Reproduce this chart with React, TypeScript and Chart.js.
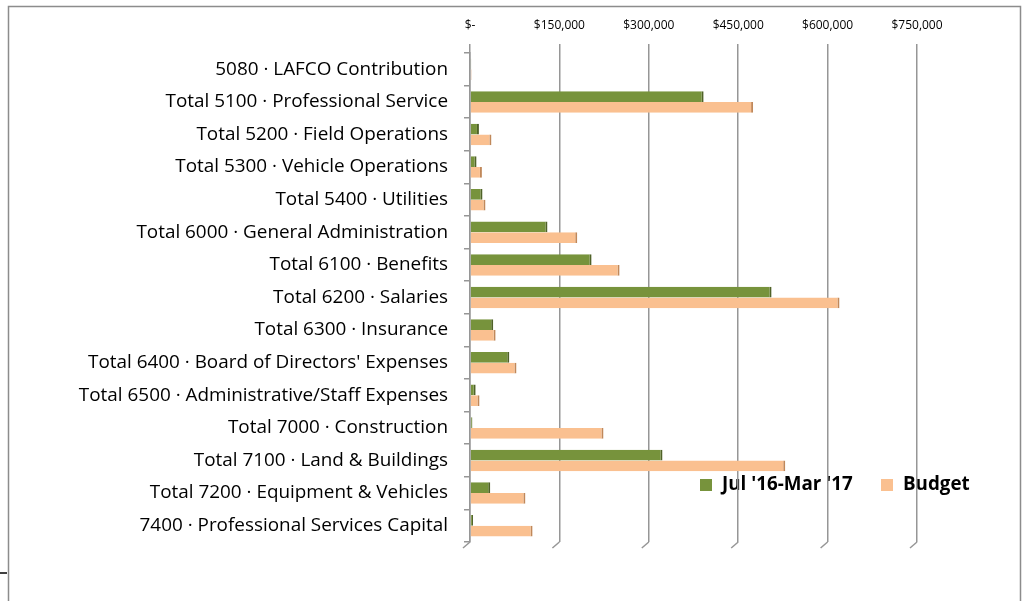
import React, { useEffect, useRef } from "react";
import { Chart, registerables } from "chart.js";

Chart.register(...registerables);

const categories = [
  "5080 · LAFCO Contribution",
  "Total 5100 · Professional Service",
  "Total 5200 · Field Operations",
  "Total 5300 · Vehicle Operations",
  "Total 5400 · Utilities",
  "Total 6000 · General Administration",
  "Total 6100 · Benefits",
  "Total 6200 · Salaries",
  "Total 6300 · Insurance",
  "Total 6400 · Board of Directors' Expenses",
  "Total 6500 · Administrative/Staff Expenses",
  "Total 7000 · Construction",
  "Total 7100 · Land & Buildings",
  "Total 7200 · Equipment & Vehicles",
  "7400 · Professional Services Capital",
];

const actualLabel = "Jul '16-Mar '17";
const budgetLabel = "Budget";

const actualValues = [2000, 392000, 15000, 11000, 21000, 130000, 204000, 506000, 39000, 66000, 9500, 4000, 323000, 34000, 5000];
const budgetValues = [2500, 475000, 36000, 20000, 26000, 180000, 251000, 620000, 43000, 78000, 16000, 224000, 529000, 93000, 105000];

const xTicks = [0, 150000, 300000, 450000, 600000, 750000];

const GREEN = "#77933C";
const GREEN_DARK = "#4F6228";
const ORANGE = "#FAC090";
const ORANGE_DARK = "#C0885A";
const GRID = "#969696";
const FONT = "'Open Sans', Lato, sans-serif";

const fmt = (v: number) => (v === 0 ? "$-" : "$" + v.toLocaleString("en-US"));

export default function App() {
  const ref = useRef<HTMLCanvasElement | null>(null);

  useEffect(() => {
    document.body.style.margin = "0";
    const canvas = ref.current!;
    const decor = {
      id: "decor",
      beforeDraw(chart: any) {
        const ctx = chart.ctx;
        ctx.save();
        // frame
        ctx.strokeStyle = "#8c8c8c";
        ctx.lineWidth = 1.5;
        ctx.beginPath();
        ctx.moveTo(8.5, 620);
        ctx.lineTo(8.5, 6.5);
        ctx.lineTo(1020.5, 6.5);
        ctx.lineTo(1020.5, 620);
        ctx.stroke();
        ctx.strokeStyle = "#000";
        ctx.lineWidth = 1.5;
        ctx.beginPath();
        ctx.moveTo(0, 573);
        ctx.lineTo(7, 573);
        ctx.stroke();
        // legend (drawn beneath gridlines, as in the reference)
        const items = [
          { label: actualLabel, color: GREEN, x: 700 },
          { label: budgetLabel, color: ORANGE, x: 881 },
        ];
        ctx.font = "bold 18.8px " + FONT;
        ctx.textBaseline = "middle";
        for (const it of items) {
          ctx.fillStyle = it.color;
          ctx.fillRect(it.x, 479, 12, 12);
          ctx.fillStyle = "#000";
          ctx.fillText(it.label, it.x + 22, 485);
        }
        ctx.restore();
      },
      afterDatasetsDraw(chart: any) {
        const ctx = chart.ctx;
        const xs = chart.scales.x;
        const bottom = chart.chartArea.bottom;
        ctx.save();
        ctx.strokeStyle = GRID;
        ctx.lineWidth = 1.5;
        for (const t of xTicks) {
          const px = xs.getPixelForValue(t);
          ctx.beginPath();
          ctx.moveTo(px, bottom);
          ctx.lineTo(px - 7, bottom + 6);
          ctx.stroke();
        }
        ctx.restore();
      },
    };

    const chart = new Chart(canvas, {
      type: "bar",
      data: {
        labels: categories,
        datasets: [
          {
            label: actualLabel,
            data: actualValues,
            backgroundColor: GREEN,
            borderColor: GREEN_DARK,
            borderWidth: { top: 0, right: 2, bottom: 0, left: 0 },
            borderSkipped: false,
            categoryPercentage: 0.66,
            barPercentage: 1,
          },
          {
            label: budgetLabel,
            data: budgetValues,
            backgroundColor: ORANGE,
            borderColor: ORANGE_DARK,
            borderWidth: { top: 0, right: 2, bottom: 0, left: 0 },
            borderSkipped: false,
            categoryPercentage: 0.66,
            barPercentage: 1,
          },
        ],
      },
      options: {
        indexAxis: "y",
        responsive: false,
        animation: false,
        layout: { padding: { left: 0, right: 112, top: 10, bottom: 59 } },
        plugins: { legend: { display: false }, tooltip: { enabled: false } },
        scales: {
          x: {
            position: "top",
            min: 0,
            max: 750000,
            afterBuildTicks: (scale: any) => {
              scale.ticks = xTicks.map((v) => ({ value: v }));
            },
            afterFit: (scale: any) => {
              scale.height = 43;
            },
            ticks: {
              callback: (v: any) => fmt(Number(v)),
              color: "#000",
              font: { family: FONT, size: 12 },
              padding: 11,
              maxRotation: 0,
            },
            grid: { color: GRID, lineWidth: 1.5, tickLength: 9, tickColor: GRID },
            border: { display: false },
          },
          y: {
            afterFit: (scale: any) => {
              scale.width = 470;
            },
            ticks: {
              color: "#000",
              font: { family: FONT, size: 18.9 },
              padding: 16,
              autoSkip: false,
            },
            grid: { drawOnChartArea: false, offset: true, tickLength: 6, color: GRID, lineWidth: 1.5 },
            border: { display: true, color: GRID, width: 1.5 },
          },
        },
      },
      plugins: [decor],
    } as any);
    return () => chart.destroy();
  }, []);

  return <canvas ref={ref} width={1029} height={601} style={{ display: "block" }} />;
}
